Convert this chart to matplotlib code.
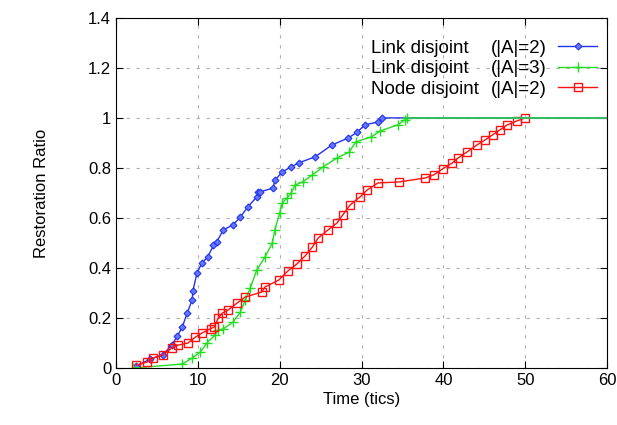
import matplotlib
matplotlib.use('Agg')
import matplotlib.pyplot as plt
from matplotlib.ticker import FormatStrFormatter

plt.rcParams['font.family'] = ['Liberation Sans', 'DejaVu Sans']

# Link disjoint (|A|=2)
link2_x = [2.5, 4.2, 5.7, 6.8, 7.5, 8.1, 8.7, 9.3, 9.4, 9.9, 10.5, 11.2, 11.9, 12.3,
           13.1, 14.3, 15.2, 16.1, 17.2, 17.4, 17.6, 19.2, 19.4, 20.3, 21.4, 22.3,
           24.3, 26.4, 28.4, 29.5, 30.4, 32.0, 32.5, 60]
link2_y = [0.008, 0.036, 0.052, 0.092, 0.128, 0.164, 0.22, 0.272, 0.31, 0.38, 0.42,
           0.444, 0.49, 0.504, 0.552, 0.572, 0.604, 0.644, 0.684, 0.704, 0.704, 0.72,
           0.75, 0.784, 0.804, 0.82, 0.844, 0.892, 0.92, 0.944, 0.972, 0.984, 1.0, 1.0]

# Link disjoint (|A|=3)
link3_x = [2.1, 8.1, 9.3, 10.3, 11.1, 12.1, 12.5, 13.1, 14.3, 15.2, 15.8, 16.4, 17.2,
           18.2, 19.1, 19.4, 20.0, 20.3, 20.9, 21.4, 21.9, 22.8, 24.0, 25.3, 27.0,
           28.5, 29.3, 31.2, 32.3, 34.4, 35.3, 35.6, 60]
link3_y = [0.0, 0.016, 0.04, 0.064, 0.1, 0.132, 0.152, 0.156, 0.184, 0.224, 0.272,
           0.32, 0.392, 0.444, 0.5, 0.552, 0.62, 0.66, 0.68, 0.7, 0.732, 0.744, 0.772,
           0.804, 0.84, 0.864, 0.904, 0.924, 0.948, 0.972, 0.992, 1.0, 1.0]

# Node disjoint (|A|=2)
node2_x = [2.5, 3.8, 4.5, 5.7, 6.8, 7.6, 8.8, 9.7, 10.5, 11.6, 12.0, 12.5, 13.0, 13.7,
           14.8, 15.8, 17.8, 18.2, 19.9, 21.0, 22.1, 23.1, 24.0, 24.7, 25.9, 27.0,
           27.7, 28.6, 29.8, 30.7, 32.0, 34.6, 37.8, 38.8, 39.9, 41.1, 41.8, 42.9,
           44.1, 45.1, 46.0, 46.9, 47.8, 49.0, 50.0]
node2_y = [0.012, 0.024, 0.04, 0.052, 0.08, 0.092, 0.1, 0.124, 0.14, 0.158, 0.164,
           0.2, 0.22, 0.232, 0.26, 0.284, 0.304, 0.324, 0.352, 0.388, 0.416, 0.448,
           0.484, 0.52, 0.552, 0.58, 0.612, 0.652, 0.684, 0.712, 0.74, 0.744, 0.76,
           0.772, 0.796, 0.82, 0.84, 0.864, 0.892, 0.912, 0.932, 0.952, 0.972, 0.988,
           1.0]

names = ['Link disjoint', 'Link disjoint', 'Node disjoint']
params = ['(|A|=2)', '(|A|=3)', '(|A|=2)']

fig = plt.figure(figsize=(6.17, 4.25), dpi=100)
ax = fig.add_axes([0.188, 0.134, 0.796, 0.824])
ax.set_axisbelow(True)

l1, = ax.plot(link2_x, link2_y, color='#2233ee', lw=1, marker='D', ms=3.5,
              mfc='#6677ff', mec='#2233ee', mew=0.8,
              markevery=list(range(len(link2_x) - 1)))
l2, = ax.plot(link3_x, link3_y, color='#22dd22', lw=1, marker='+', ms=7, mew=1,
              markevery=list(range(len(link3_x) - 1)))
l3, = ax.plot(node2_x, node2_y, color='#ff1111', lw=1, marker='s', ms=5.5,
              mfc='none', mew=1)
# reference shows the shared plateau in a blended green
ax.plot([link3_x[-2], 60], [1, 1], color='#33bb66', lw=1.5)

ax.set_xlim(0, 60)
ax.set_ylim(0, 1.4)
ax.set_xticks(range(0, 61, 10))
ax.set_yticks([0, 0.2, 0.4, 0.6, 0.8, 1.0, 1.2, 1.4])
ax.yaxis.set_major_formatter(FormatStrFormatter('%g'))
ax.tick_params(direction='in', top=True, right=True, labelsize=12, length=5)
ax.grid(True, color='#b0b0b0', linestyle=(0, (3, 6)), lw=0.8)
ax.set_xlabel('Time (tics)', fontsize=12, labelpad=3)
ax.set_ylabel('Restoration Ratio', fontsize=12, labelpad=28)

# gnuplot-style key: left-aligned names, aligned parameter column, sample on the right
leg = ax.legend([l1, l2, l3], params, loc='upper right', frameon=False,
                markerfirst=False, fontsize=13.5, handlelength=2.1,
                handletextpad=0.6, labelspacing=0.17, borderpad=0,
                borderaxespad=0, bbox_to_anchor=(0.98, 0.937))
fig.canvas.draw()
for name, txt in zip(names, leg.get_texts()):
    bb = txt.get_window_extent().transformed(ax.transAxes.inverted())
    ax.text(0.519, (bb.y0 + bb.y1) / 2, name, fontsize=13.5, va='center',
            ha='left', transform=ax.transAxes)

fig.savefig('out.png', dpi=100)
